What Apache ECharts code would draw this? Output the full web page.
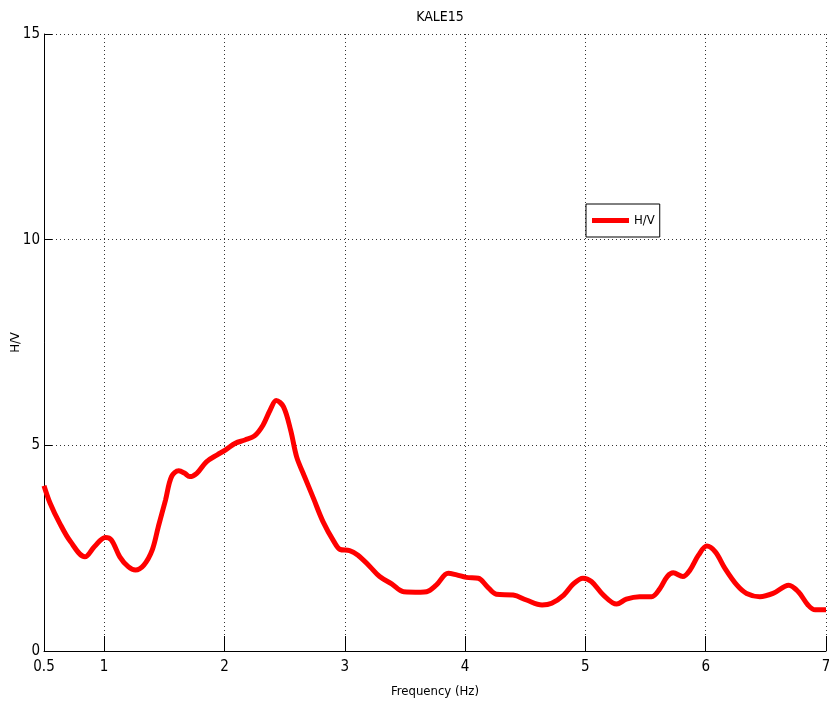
<!DOCTYPE html>
<html>
<head>
<meta charset="utf-8">
<script src="https://cdn.jsdelivr.net/npm/echarts@6/dist/echarts.min.js"></script>
<style>
  html, body { margin: 0; padding: 0; background: #fff; }
  #chart { width: 829px; height: 713px; }
</style>
</head>
<body>
<div id="chart"></div>
<script>
// H/V spectral ratio for station KALE15
const freq = [0.50, 0.55, 0.63, 0.72, 0.84, 0.92, 1.01, 1.06, 1.13, 1.20, 1.26, 1.33, 1.40, 1.45,
  1.51, 1.56, 1.62, 1.67, 1.71, 1.77, 1.85, 1.94, 2.01, 2.09, 2.17, 2.25, 2.32, 2.38, 2.43, 2.49,
  2.55, 2.60, 2.66, 2.74, 2.82, 2.91, 2.96, 3.04, 3.11, 3.21, 3.29, 3.39, 3.49, 3.63, 3.68, 3.76,
  3.86, 3.93, 4.01, 4.11, 4.18, 4.26, 4.40, 4.51, 4.64, 4.72, 4.82, 4.90, 4.98, 5.05, 5.15, 5.26,
  5.34, 5.45, 5.55, 5.62, 5.68, 5.73, 5.81, 5.87, 5.94, 6.01, 6.08, 6.16, 6.26, 6.34, 6.45, 6.56,
  6.69, 6.77, 6.85, 6.91, 7.00];
const hv = [4.02, 3.60, 3.11, 2.66, 2.29, 2.54, 2.76, 2.70, 2.29, 2.05, 1.97, 2.09, 2.46, 3.02,
  3.67, 4.24, 4.38, 4.32, 4.24, 4.32, 4.60, 4.77, 4.89, 5.05, 5.13, 5.23, 5.49, 5.86, 6.09, 5.94,
  5.37, 4.72, 4.28, 3.71, 3.14, 2.66, 2.47, 2.44, 2.33, 2.05, 1.81, 1.63, 1.44, 1.43, 1.44, 1.60,
  1.89, 1.85, 1.79, 1.77, 1.58, 1.38, 1.36, 1.24, 1.12, 1.16, 1.36, 1.63, 1.77, 1.69, 1.36, 1.14,
  1.26, 1.32, 1.32, 1.52, 1.81, 1.90, 1.81, 1.97, 2.33, 2.55, 2.41, 2.01, 1.60, 1.40, 1.32, 1.40,
  1.60, 1.44, 1.12, 1.00, 1.00];
const xTicks = [0.5, 1, 2, 3, 4, 5, 6, 7];

const FONT = '"Liberation Sans Narrow", "DejaVu Sans Condensed", "Liberation Sans", sans-serif';
const chart = echarts.init(document.getElementById('chart'), null, { renderer: 'canvas' });

chart.setOption({
  animation: false,
  backgroundColor: '#ffffff',
  title: {
    text: 'KALE15',
    left: 435,
    textAlign: 'center',
    top: 5,
    textStyle: { fontFamily: FONT, fontSize: 14, fontWeight: 'normal', color: '#000' }
  },
  legend: {
    left: 586,
    top: 204,
    padding: [10, 5, 10, 6],
    itemWidth: 37,
    itemHeight: 5,
    itemGap: 4,
    icon: 'rect',
    backgroundColor: '#fff',
    borderColor: '#000',
    borderWidth: 1,
    borderRadius: 0,
    textStyle: { fontFamily: FONT, fontSize: 13, color: '#000' },
    data: ['H/V']
  },
  grid: { left: 44, right: 3, top: 34, bottom: 62, containLabel: false, outerBoundsMode: 'none' },
  xAxis: {
    type: 'value',
    min: 0.5,
    max: 7,
    name: 'Frequency (Hz)',
    nameLocation: 'middle',
    nameGap: 34,
    nameMoveOverlap: false,
    nameTextStyle: { fontFamily: FONT, fontSize: 13, color: '#000' },
    axisLine: { show: true, onZero: false, lineStyle: { color: '#000', width: 1 } },
    axisTick: { show: true, inside: true, length: 15, customValues: xTicks, lineStyle: { color: '#000' } },
    axisLabel: { customValues: xTicks, margin: 9, fontFamily: FONT, fontSize: 15, color: '#000',
      hideOverlap: false, formatter: v => String(v) },
    splitLine: { show: true, lineStyle: { color: '#333', width: 1, type: [1, 3] } }
  },
  yAxis: {
    type: 'value',
    min: 0,
    max: 15,
    interval: 5,
    name: 'H/V',
    nameLocation: 'middle',
    nameGap: 22,
    nameRotate: 90,
    nameMoveOverlap: false,
    nameTextStyle: { fontFamily: FONT, fontSize: 13, color: '#000' },
    axisLine: { show: true, onZero: false, lineStyle: { color: '#000', width: 1 } },
    axisTick: { show: true, inside: true, length: 8, lineStyle: { color: '#000' } },
    axisLabel: { margin: 4, fontFamily: FONT, fontSize: 15, color: '#000' },
    splitLine: { show: true, lineStyle: { color: '#333', width: 1, type: [1, 3] } }
  },
  series: [{
    name: 'H/V',
    type: 'line',
    data: freq.map((f, i) => [f, hv[i]]),
    smooth: 0.35,
    showSymbol: false,
    clip: true,
    lineStyle: { color: '#ff0000', width: 5 },
    itemStyle: { color: '#ff0000' }
  }]
});
</script>
</body>
</html>
